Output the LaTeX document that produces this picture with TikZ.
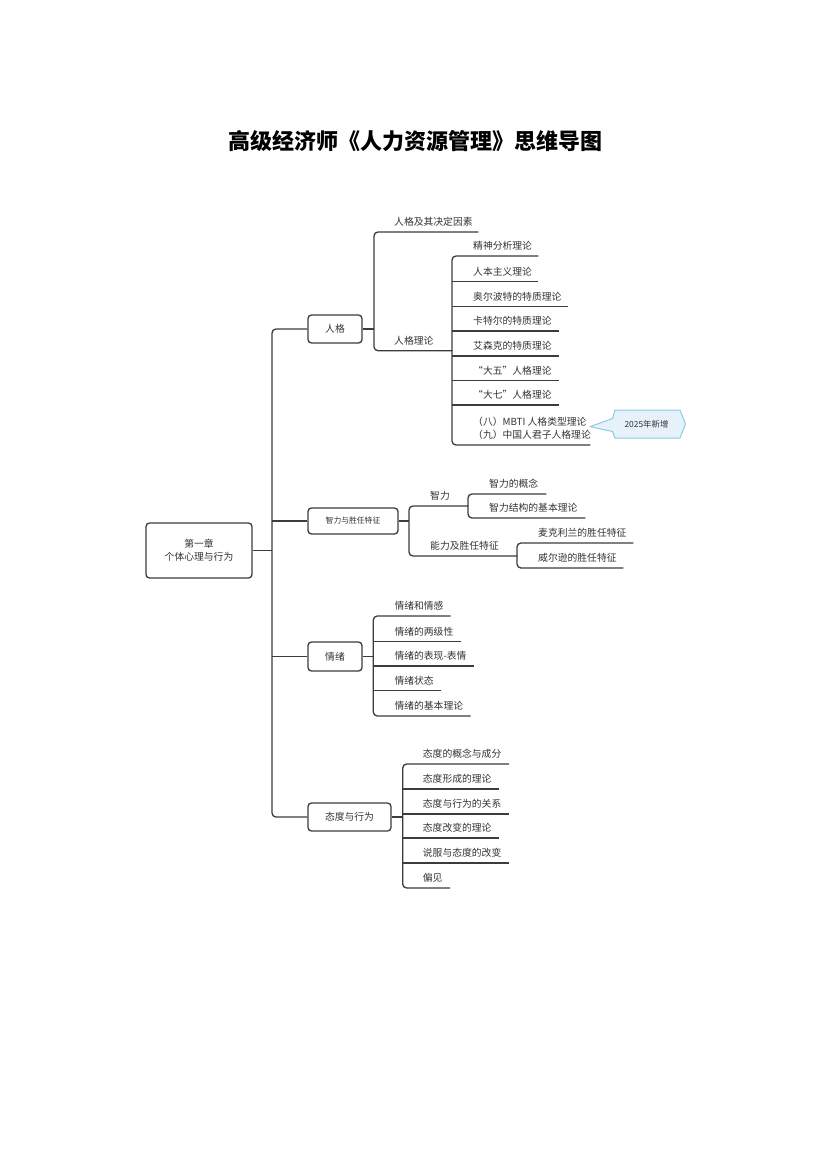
\documentclass[tikz,border=0pt]{standalone}
\usepackage{fontspec}
\setmainfont{Noto Sans CJK SC}
\definecolor{lc}{HTML}{3C3C3C}
\definecolor{tc}{HTML}{333333}
\definecolor{cbfill}{HTML}{E7F1FA}
\definecolor{cbdraw}{HTML}{8CCBE6}
\newcommand\lt[3]{\makebox[#1pt][l]{\hspace*{#2pt}#3}}
\begin{document}
\begin{tikzpicture}[x=1pt,y=-1pt,
  ln/.style={draw=lc,line width=1.3pt,rounded corners=4pt},
  leaf/.style={anchor=south west,inner sep=0pt,text height=8pt,text depth=6pt,text=tc,font=\fontsize{9.8}{13.3}\selectfont},
  topic/.style={draw=lc,line width=1.3pt,rounded corners=3.5pt,inner sep=0pt,text=tc,font=\fontsize{9.8}{13}\selectfont,align=center},
  callout/.style={draw=cbdraw,fill=cbfill,line width=1pt,line join=round},
]
\useasboundingbox (0,0) rectangle (830,1175);
\fill[white] (0,0) rectangle (830,1175);
\coordinate (tk) at (272,0);

% title
\node[font=\fontsize{22}{26}\selectfont\bfseries,text=black] (title) at (415,141) {高级经济师《人力资源管理》思维导图};

% root and main topics
\node[topic,minimum width=106pt,minimum height=55pt] (root) at (199,550.5) {第一章\\个体心理与行为};
\node[topic,minimum width=54pt,minimum height=28pt] (b1) at (335,329) {人格};
\node[topic,minimum width=90pt,minimum height=26pt,font=\fontsize{7.8}{10}\selectfont] (b2) at (353,521) {智力与胜任特征};
\node[topic,minimum width=54pt,minimum height=29pt] (b3) at (335,656.5) {情绪};
\node[topic,minimum width=83pt,minimum height=28pt] (b4) at (349.5,817) {态度与行为};

\draw[ln] (b1.west) -- (b1.west -| tk) -- (b4.west -| tk) -- (b4.west);
\draw[ln] (root.east) -- (root.east -| tk);
\draw[ln] (b2.west) -- (b2.west -| tk);
\draw[ln] (b3.west) -- (b3.west -| tk);

% 人格
\node[leaf] (p1) at (374,232) {\lt{104}{20}{人格及其决定因素}};
\node[leaf] (p2) at (374,350.7) {\lt{78}{20}{人格理论}};
\draw[ln] (p1.south east) -- (p1.south west) -- (p2.south west) -- (p2.south east);
\draw[ln] (b1.east) -- (b1.east -| p1.south west);

\node[leaf] (t1) at (452,256) {\lt{86}{21}{精神分析理论}};
\node[leaf] (t2) at (452,281.7) {\lt{86}{21}{人本主义理论}};
\node[leaf] (t3) at (452,306.7) {\lt{116}{21}{奥尔波特的特质理论}};
\node[leaf] (t4) at (452,331) {\lt{107}{21}{卡特尔的特质理论}};
\node[leaf] (t5) at (452,356) {\lt{107}{21}{艾森克的特质理论}};
\node[leaf] (t6) at (452,380.7) {\lt{107}{21}{“大五”人格理论}};
\node[leaf] (t7) at (452,405) {\lt{107}{21}{“大七”人格理论}};
\node[leaf] (t8) at (452,445) {\lt{138}{21}{\begin{tabular}[b]{@{}l@{}}（八）MBTI 人格类型理论\\（九）中国人君子人格理论\end{tabular}}};
\draw[ln] (t1.south east) -- (t1.south west) -- (t8.south west) -- (t8.south east);
\foreach \n in {t2,t3,t4,t5,t6,t7} \draw[ln] (\n.south west) -- (\n.south east);

% callout
\draw[callout]
  (615,410) -- (680,410) -- (685.5,424) -- (680,438) -- (615,438) -- (612.5,431.5) -- (590,426.7) -- (612.5,418.5) -- cycle;
\node[text=tc,font=\fontsize{8.4}{10}\selectfont] (new) at (646.5,424) {2025年新增};

% 智力与胜任特征
\node[leaf] (c1) at (409,506) {\lt{59}{21}{智力}};
\node[leaf] (c2) at (409,556) {\lt{108}{21}{能力及胜任特征}};
\draw[ln] (c1.south east) -- (c1.south west) -- (c2.south west) -- (c2.south east);
\draw[ln] (b2.east) -- (b2.east -| c1.south west);
\node[leaf] (c11) at (468,494) {\lt{78}{21}{智力的概念}};
\node[leaf] (c12) at (468,518) {\lt{117}{21}{智力结构的基本理论}};
\draw[ln] (c11.south east) -- (c11.south west) -- (c12.south west) -- (c12.south east);
\node[leaf] (c21) at (517,543) {\lt{116}{21}{麦克利兰的胜任特征}};
\node[leaf] (c22) at (517,568) {\lt{106}{21}{威尔逊的胜任特征}};
\draw[ln] (c21.south east) -- (c21.south west) -- (c22.south west) -- (c22.south east);

% 情绪
\node[leaf] (e1) at (373.3,616) {\lt{77}{21}{情绪和情感}};
\node[leaf] (e2) at (373.3,641.7) {\lt{87}{21}{情绪的两级性}};
\node[leaf] (e3) at (373.3,666) {\lt{100}{21}{情绪的表现-表情}};
\node[leaf] (e4) at (373.3,690.7) {\lt{67}{21}{情绪状态}};
\node[leaf] (e5) at (373.3,716) {\lt{97}{21}{情绪的基本理论}};
\draw[ln] (e1.south east) -- (e1.south west) -- (e5.south west) -- (e5.south east);
\foreach \n in {e2,e3,e4} \draw[ln] (\n.south west) -- (\n.south east);
\draw[ln] (b3.east) -- (b3.east -| e1.south west);

% 态度与行为
\node[leaf] (a1) at (402.7,764) {\lt{106}{20}{态度的概念与成分}};
\node[leaf] (a2) at (402.7,789) {\lt{96}{20}{态度形成的理论}};
\node[leaf] (a3) at (402.7,814) {\lt{106}{20}{态度与行为的关系}};
\node[leaf] (a4) at (402.7,838) {\lt{96}{20}{态度改变的理论}};
\node[leaf] (a5) at (402.7,863) {\lt{106}{20}{说服与态度的改变}};
\node[leaf] (a6) at (402.7,888) {\lt{47}{20}{偏见}};
\draw[ln] (a1.south east) -- (a1.south west) -- (a6.south west) -- (a6.south east);
\foreach \n in {a2,a3,a4,a5} \draw[ln] (\n.south west) -- (\n.south east);
\draw[ln] (b4.east) -- (b4.east -| a1.south west);
\end{tikzpicture}
\end{document}
